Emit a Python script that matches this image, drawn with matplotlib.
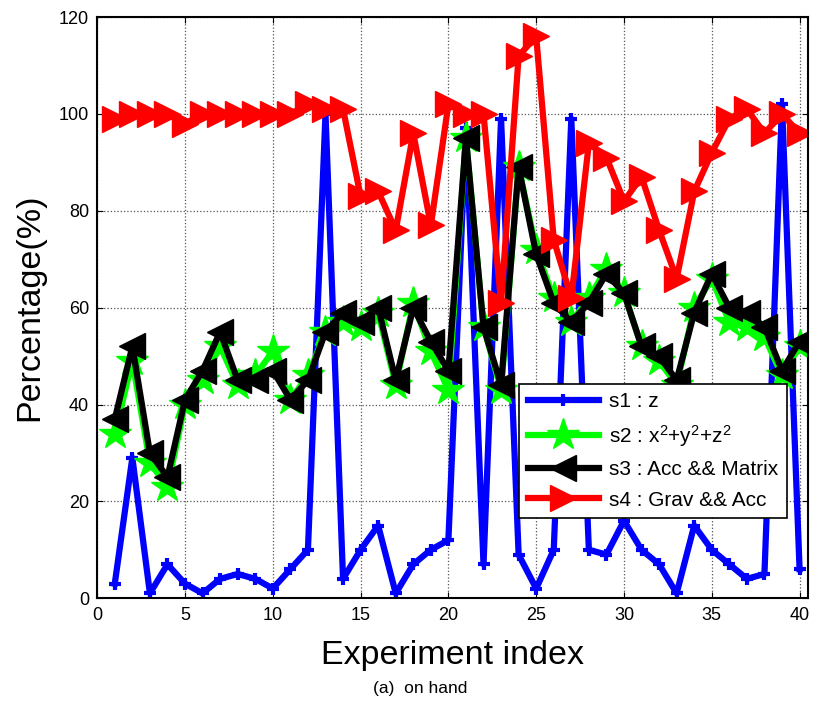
import numpy as np
import matplotlib
matplotlib.use("Agg")
import matplotlib.pyplot as plt

plt.rcParams['font.family'] = ['Liberation Sans', 'DejaVu Sans']
plt.rcParams['mathtext.fontset'] = 'custom'
plt.rcParams['mathtext.rm'] = 'Liberation Sans'
plt.rcParams['mathtext.it'] = 'Liberation Sans'

idx = np.arange(1, 41)

s1 = [3, 29, 1, 7, 3, 1, 4, 5, 4, 2, 6, 10, 100, 4, 10, 15, 1, 7, 10, 12,
      97, 7, 99, 9, 2, 10, 99, 10, 9, 16, 10, 7, 1, 15, 10, 7, 4, 5, 102, 6]
s2 = [34, 49, 28, 23, 40, 45, 52, 44, 46, 51, 41, 46, 55, 57, 56, 59, 44, 61, 51, 43,
      95, 56, 43, 89, 72, 62, 57, 62, 68, 63, 52, 49, 44, 60, 66, 57, 56, 54, 46, 52]
s3 = [37, 52, 30, 25, 41, 47, 55, 45, 45, 47, 41, 45, 55, 59, 57, 60, 45, 60, 53, 47,
      95, 56, 44, 89, 71, 61, 57, 61, 67, 63, 52, 50, 45, 59, 67, 60, 59, 56, 47, 53]
s4 = [99, 100, 100, 100, 98, 100, 100, 100, 100, 100, 100, 102, 101, 101, 83, 84, 76, 96, 77, 102,
      100, 100, 61, 112, 116, 74, 62, 94, 91, 82, 87, 76, 66, 84, 92, 99, 101, 96, 100, 96]

labels = ['s1 : z', r's2 : x$^2$+y$^2$+z$^2$', 's3 : Acc && Matrix', 's4 : Grav && Acc']

fig = plt.figure(figsize=(8.24, 7.13), dpi=100)
ax = fig.add_axes([0.118, 0.161, 0.863, 0.815])

ax.plot(idx, s1, color='blue', lw=4.5, marker='+', ms=9, mew=3, label=labels[0])
ax.plot(idx, s2, color='#00ff00', lw=4.5, marker='*', ms=24, label=labels[1])
ax.plot(idx, s3, color='black', lw=4.5, marker='<', ms=19, label=labels[2])
ax.plot(idx, s4, color='red', lw=4.5, marker='>', ms=19, label=labels[3])

ax.set_xlim(0, 40.5)
ax.set_ylim(0, 120)
ax.set_xticks(np.arange(0, 41, 5))
ax.set_yticks(np.arange(0, 121, 20))
ax.grid(True, linestyle=':', color='#555555', lw=0.9)
ax.tick_params(direction='in', top=True, right=True, labelsize=13, length=4, pad=6)
for sp in ax.spines.values():
    sp.set_linewidth(1.5)

ax.set_xlabel('Experiment index', fontsize=24.5, labelpad=12)
ax.set_ylabel('Percentage(%)', fontsize=24.5, labelpad=10)
fig.text(0.51, 0.035, '(a)  on hand', ha='center', va='center', fontsize=12.5)

leg = ax.legend(loc='lower right', bbox_to_anchor=(0.984, 0.12), fontsize=15,
                handlelength=3.4, fancybox=False, framealpha=1, edgecolor='black',
                borderpad=0.4, labelspacing=0.55, handletextpad=0.5)
leg.get_frame().set_linewidth(1.2)

fig.savefig('out.png', dpi=100)
